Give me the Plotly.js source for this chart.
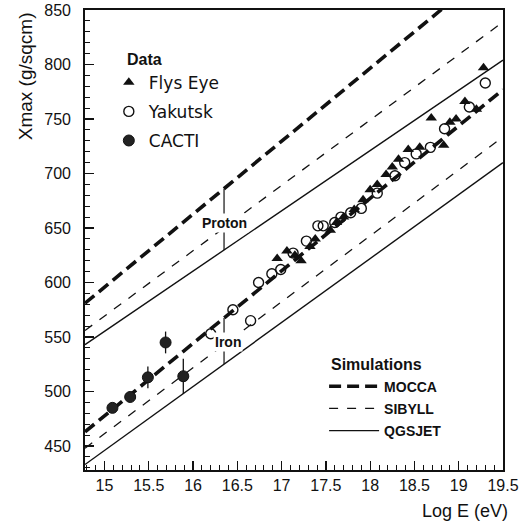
<!DOCTYPE html>
<html><head><meta charset="utf-8">
<script src="https://cdn.plot.ly/plotly-3.0.1.min.js"></script>
<style>html,body{margin:0;padding:0;background:#fff}#chart{width:525px;height:522px}</style>
</head><body><div id="chart"></div>
<script>
// ---- data ----
const lineX = [14.78, 19.5];
const protonMOCCA  = [581, 897];
const protonSIBYLL = [556, 839];
const protonQGSJET = [543, 804];
const ironMOCCA    = [463, 777];
const ironSIBYLL   = [448, 733.5];
const ironQGSJET   = [433, 710];

const flysX = [16.95,17.06,17.15,17.22,17.32,17.38,17.55,17.62,17.70,17.82,17.92,18.00,18.08,18.18,18.25,18.32,18.43,18.56,18.69,18.83,18.90,18.97,19.07,19.20,19.28];
const flysY = [622,629,625,620,633,640,648,655,660,667,676,685,690,699,706,713,722,724,751,726,747,750,766,759,797];

const yakX = [16.20,16.45,16.65,16.74,16.89,16.99,17.13,17.28,17.41,17.47,17.60,17.67,17.78,17.90,18.08,18.28,18.39,18.52,18.68,18.84,19.12,19.30];
const yakY = [553,575,565,600,608,612,627,638,652,652,655,660,664,668,682,698,710,718,724,741,761,783];

const cactiX = [15.09,15.29,15.49,15.69,15.89];
const cactiY = [485,495,513,545,514];
const cactiErr = [3,3,10,10,16];

const labelX = 16.35;
const xTicks = [15,15.5,16,16.5,17,17.5,18,18.5,19,19.5];
const xTickText = ['15','15.5','16','16.5','17','17.5','18','18.5','19','19.5'];
const yTicks = [450,500,550,600,650,700,750,800,850];

// ---- helpers ----
function at(line, x){ return line[0] + (line[1]-line[0])*(x-lineX[0])/(lineX[1]-lineX[0]); }

const black = '#111';
const styles = {
  MOCCA:  {color: black, width: 3.6, dash: '12px,6px'},
  SIBYLL: {color: black, width: 1.3, dash: '9px,9px'},
  QGSJET: {color: black, width: 1.4, dash: 'solid'}
};
function simTrace(y, name, show){
  return {x: lineX, y: y, mode: 'lines', name: name, line: styles[name],
          legend: 'legend2', legendgroup: name, showlegend: show, hoverinfo: 'skip'};
}

const traces = [
  simTrace(protonMOCCA, 'MOCCA', true),
  simTrace(protonSIBYLL, 'SIBYLL', true),
  simTrace(protonQGSJET, 'QGSJET', true),
  simTrace(ironMOCCA, 'MOCCA', false),
  simTrace(ironSIBYLL, 'SIBYLL', false),
  simTrace(ironQGSJET, 'QGSJET', false),
  {x: [labelX, labelX], y: [at(protonMOCCA,labelX), at(protonQGSJET,labelX)], mode: 'lines',
   line: {color: black, width: 1.2}, showlegend: false, hoverinfo: 'skip'},
  {x: [labelX, labelX], y: [at(ironMOCCA,labelX), at(ironQGSJET,labelX)], mode: 'lines',
   line: {color: black, width: 1.2}, showlegend: false, hoverinfo: 'skip'},
  {x: flysX, y: flysY, mode: 'markers', name: 'Flys Eye', legendgroup: 'fly',
   marker: {symbol: 'triangle-up', size: 10, color: black}},
  {x: yakX, y: yakY, mode: 'markers', name: 'Yakutsk', legendgroup: 'yak',
   marker: {symbol: 'circle-open', size: 10, color: black, line: {width: 1.4, color: black}}},
  {x: cactiX, y: cactiY, mode: 'markers', name: 'CACTI', legendgroup: 'cacti',
   error_y: {type: 'data', array: cactiErr, visible: true, color: black, thickness: 1.3, width: 0},
   marker: {symbol: 'circle', size: 11, color: '#222', line: {width: 1, color: black}}}
];

const axisBase = {
  showgrid: false, zeroline: false, showline: true, mirror: true,
  linecolor: black, linewidth: 1.8, ticks: 'inside', ticklen: 9, tickwidth: 1.3, tickcolor: black,
  tickfont: {family: 'Liberation Sans, Arial, sans-serif', size: 16, color: black}
};

const layout = {
  width: 525, height: 522,
  margin: {l: 85, r: 22, t: 10, b: 52},
  paper_bgcolor: '#fff', plot_bgcolor: '#fff',
  font: {family: 'Liberation Sans, Arial, sans-serif', color: black},
  xaxis: Object.assign({}, axisBase, {range: [14.78, 19.5], tickvals: xTicks, ticktext: xTickText,
    minor: {dtick: 0.1, tick0: 15, ticks: 'inside', ticklen: 5, tickwidth: 1, tickcolor: black}}),
  yaxis: Object.assign({}, axisBase, {range: [428, 850], tickvals: yTicks, ticklabelstandoff: 9,
    minor: {dtick: 10, tick0: 450, ticks: 'inside', ticklen: 5, tickwidth: 1, tickcolor: black}}),
  legend: {x: 0.057, y: 0.881, xanchor: 'left', yanchor: 'top', bgcolor: 'rgba(0,0,0,0)',
    font: {family: 'DejaVu Sans, sans-serif', size: 17, color: black}, itemwidth: 30,
    traceorder: 'grouped', tracegroupgap: 4},
  legend2: {x: 0.572, y: 0.216, xanchor: 'left', yanchor: 'top', bgcolor: 'rgba(0,0,0,0)',
    font: {family: 'Liberation Sans, Arial, sans-serif', size: 14, color: black, weight: 'bold'}, itemwidth: 50,
    traceorder: 'grouped', tracegroupgap: 1},
  annotations: [
    {text: 'Xmax (g/sqcm)', xref: 'paper', yref: 'paper', x: -0.143, y: 1.0, xanchor: 'center', yanchor: 'top',
     textangle: -90, showarrow: false, font: {size: 19, color: black}},
    {text: 'Log E (eV)', xref: 'paper', yref: 'paper', x: 1.017, y: -0.09, xanchor: 'right', yanchor: 'middle',
     showarrow: false, font: {size: 18, color: black}},
    {text: '<b>Data</b>', xref: 'paper', yref: 'paper', x: 0.096, y: 0.893, xanchor: 'left', yanchor: 'middle',
     showarrow: false, font: {size: 16, color: black}},
    {text: '<b>Simulations</b>', xref: 'paper', yref: 'paper', x: 0.697, y: 0.230, xanchor: 'center', yanchor: 'middle',
     showarrow: false, font: {size: 16, color: black}},
    {text: '<b>Proton</b>', x: labelX, y: 655, xanchor: 'center', yanchor: 'middle', showarrow: false,
     bgcolor: '#fff', borderpad: 1, font: {size: 14, color: black}},
    {text: '<b>Iron</b>', x: labelX + 0.05, y: 545, xanchor: 'center', yanchor: 'middle', showarrow: false,
     bgcolor: '#fff', borderpad: 1, font: {size: 14, color: black}}
  ]
};

Plotly.newPlot('chart', traces, layout, {displayModeBar: false, staticPlot: true});
</script>
</body></html>
